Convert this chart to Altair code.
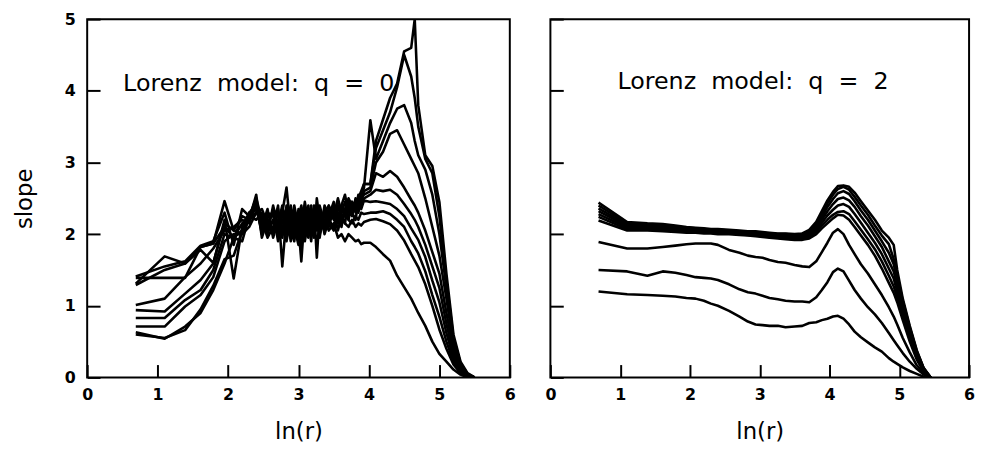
import altair as alt
import pandas as pd

# ---------------- data: q = 0 panel ----------------
lnr_q0 = [0.69, 1.10, 1.39, 1.61, 1.79, 1.95, 2.08, 2.20, 2.30, 2.40,
          2.48, 2.56, 2.64, 2.71, 2.77, 2.83, 2.89, 2.94, 3.00, 3.04, 3.09, 3.14, 3.18, 3.22,
          3.26, 3.30, 3.37, 3.43, 3.50, 3.56, 3.61, 3.66, 3.71, 3.76, 3.81, 3.85, 3.89, 3.93,
          4.02, 4.10, 4.20, 4.30, 4.40, 4.50, 4.60, 4.65, 4.70, 4.80, 4.90, 5.00, 5.10, 5.20,
          5.30, 5.40, 5.50]

q0_m1 = [1.31, 1.69, 1.59, 1.82, 1.87, 2.46, 2.05, 2.00, 2.30, 2.35,
         2.15, 2.05, 2.20, 2.00, 2.30, 2.10, 1.95, 2.25, 2.05, 2.15, 1.90, 2.20, 2.05, 2.10,
         2.30, 2.00, 2.20, 2.05, 2.15, 1.95, 2.00, 1.90, 2.00, 1.95, 1.90, 1.92, 1.86, 1.88,
         1.88, 1.82, 1.72, 1.63, 1.42, 1.26, 1.10, 1.00, 0.90, 0.72, 0.50, 0.33, 0.22, 0.11,
         0.04, 0.00, 0.00]
q0_m2 = [1.39, 1.39, 1.39, 1.82, 1.87, 2.10, 1.95, 2.15, 2.25, 2.20,
         2.30, 2.10, 2.00, 2.35, 1.95, 2.40, 2.10, 2.00, 2.30, 1.85, 2.20, 2.40, 2.00, 2.25,
         2.10, 2.35, 2.00, 2.20, 2.30, 2.05, 2.25, 2.15, 2.10, 2.20, 2.10, 2.15, 2.12, 2.17,
         2.20, 2.21, 2.18, 2.14, 2.05, 1.91, 1.72, 1.63, 1.54, 1.30, 1.00, 0.67, 0.40, 0.18,
         0.06, 0.00, 0.00]
q0_m3 = [1.29, 1.50, 1.59, 1.78, 1.60, 2.15, 2.05, 2.25, 2.20, 2.40,
         2.00, 2.25, 2.30, 1.90, 2.20, 2.05, 2.35, 2.15, 1.95, 2.25, 2.05, 1.95, 2.30, 2.00,
         2.20, 2.10, 2.30, 2.15, 2.05, 2.25, 2.15, 2.30, 2.20, 2.15, 2.25, 2.20, 2.30, 2.28,
         2.30, 2.30, 2.32, 2.28, 2.20, 2.10, 1.90, 1.82, 1.73, 1.48, 1.15, 0.85, 0.50, 0.22,
         0.08, 0.01, 0.00]
q0_m4 = [1.41, 1.55, 1.62, 1.84, 1.90, 2.30, 1.85, 2.35, 2.25, 2.50,
         2.20, 1.95, 2.10, 2.40, 1.55, 2.25, 2.00, 2.40, 2.10, 1.62, 2.30, 2.10, 2.20, 1.95,
         2.50, 2.20, 2.10, 2.35, 2.20, 2.30, 2.10, 2.35, 2.25, 2.30, 2.35, 2.40, 2.35, 2.47,
         2.45, 2.46, 2.44, 2.42, 2.35, 2.25, 2.08, 2.00, 1.92, 1.68, 1.35, 1.05, 0.62, 0.27,
         0.10, 0.02, 0.00]
q0_m5 = [1.01, 1.10, 1.40, 1.59, 1.80, 2.05, 2.10, 2.20, 2.15, 2.45,
         2.10, 2.35, 1.95, 2.20, 2.30, 2.65, 2.05, 1.90, 2.35, 2.20, 2.00, 2.25, 2.05, 2.40,
         1.67, 2.30, 2.25, 2.10, 2.40, 2.15, 2.35, 2.25, 2.40, 2.30, 2.20, 2.45, 2.40, 2.50,
         2.55, 2.62, 2.60, 2.62, 2.55, 2.42, 2.28, 2.20, 2.10, 1.85, 1.55, 1.25, 0.75, 0.32,
         0.12, 0.03, 0.00]
q0_m6 = [0.94, 0.92, 1.17, 1.36, 1.59, 2.20, 1.38, 2.10, 2.30, 2.40,
         2.25, 2.00, 2.40, 2.10, 2.05, 2.15, 2.40, 2.10, 1.85, 2.35, 2.15, 2.00, 2.35, 2.10,
         2.25, 1.95, 2.40, 2.20, 2.10, 2.40, 2.25, 2.15, 2.45, 2.35, 2.45, 2.30, 2.50, 2.55,
         2.60, 2.85, 2.80, 2.88, 2.80, 2.65, 2.48, 2.40, 2.30, 2.05, 1.75, 1.45, 0.90, 0.38,
         0.14, 0.03, 0.00]
q0_m7 = [0.83, 0.83, 1.08, 1.22, 1.50, 2.00, 1.95, 2.05, 2.20, 2.55,
         1.95, 2.20, 2.15, 2.30, 2.10, 1.90, 2.25, 2.35, 2.00, 2.10, 2.45, 2.15, 1.90, 2.30,
         2.05, 2.40, 2.15, 2.35, 2.25, 2.15, 2.40, 2.30, 2.20, 2.45, 2.30, 2.50, 2.45, 2.60,
         2.65, 3.00, 3.15, 3.40, 3.45, 3.25, 3.05, 2.95, 2.85, 2.50, 2.10, 1.70, 1.10, 0.45,
         0.16, 0.04, 0.00]
q0_m8 = [0.71, 0.71, 0.99, 1.15, 1.40, 1.90, 2.00, 2.00, 2.10, 2.30,
         2.35, 2.15, 2.00, 2.15, 2.40, 2.00, 2.20, 2.05, 2.25, 2.40, 2.10, 2.30, 2.15, 2.20,
         2.35, 2.10, 2.30, 2.40, 2.25, 2.50, 2.30, 2.45, 2.35, 2.25, 2.50, 2.40, 2.55, 2.65,
         3.59, 3.05, 3.30, 3.55, 3.75, 3.80, 3.55, 3.30, 3.10, 2.90, 2.55, 2.00, 1.25, 0.50,
         0.18, 0.04, 0.00]
q0_m9 = [0.63, 0.54, 0.71, 0.90, 1.22, 1.59, 1.95, 1.90, 2.25, 2.35,
         2.05, 2.30, 2.25, 2.05, 2.25, 2.35, 1.90, 2.25, 2.15, 2.00, 2.35, 2.05, 2.40, 2.00,
         2.15, 2.30, 2.05, 2.25, 2.45, 2.20, 2.40, 2.55, 2.30, 2.45, 2.35, 2.55, 2.50, 2.70,
         2.70, 3.20, 3.45, 3.70, 4.05, 4.50, 4.20, 3.90, 3.50, 3.05, 2.85, 2.25, 1.35, 0.55,
         0.20, 0.05, 0.00]
q0_m10 = [0.60, 0.55, 0.66, 0.95, 1.28, 1.65, 1.70, 2.05, 2.20, 2.30,
          2.25, 2.10, 2.35, 2.25, 2.00, 2.20, 2.30, 1.95, 2.20, 2.30, 2.05, 2.35, 2.10, 2.30,
          2.20, 2.05, 2.35, 2.15, 2.30, 2.40, 2.20, 2.35, 2.50, 2.40, 2.45, 2.50, 2.60, 2.70,
          2.70, 3.30, 3.60, 3.90, 4.10, 4.55, 4.60, 5.00, 3.80, 3.10, 2.95, 2.45, 1.45, 0.60,
          0.22, 0.06, 0.00]

# ---------------- data: q = 2 panel ----------------
lnr_q2 = [0.69, 1.10, 1.39, 1.61, 1.79, 1.95, 2.08, 2.20, 2.30, 2.40,
          2.56, 2.71, 2.83, 2.94, 3.04, 3.14, 3.26, 3.37, 3.50, 3.61,
          3.71, 3.81, 3.89, 3.97, 4.05, 4.12, 4.20, 4.28, 4.36, 4.45,
          4.55, 4.65, 4.75, 4.85, 4.92, 4.97, 5.05, 5.15, 5.25, 5.35, 5.45]

q2_m1 = [1.20, 1.16, 1.15, 1.14, 1.13, 1.11, 1.10, 1.07, 1.03, 1.00,
         0.93, 0.85, 0.78, 0.74, 0.73, 0.72, 0.72, 0.70, 0.71, 0.72,
         0.76, 0.77, 0.80, 0.82, 0.85, 0.86, 0.82, 0.74, 0.64, 0.56,
         0.49, 0.42, 0.36, 0.27, 0.22, 0.19, 0.14, 0.09, 0.05, 0.01, 0.00]
q2_m2 = [1.50, 1.48, 1.42, 1.48, 1.46, 1.43, 1.40, 1.39, 1.38, 1.36,
         1.30, 1.23, 1.19, 1.17, 1.14, 1.11, 1.09, 1.07, 1.06, 1.06,
         1.05, 1.12, 1.22, 1.33, 1.47, 1.52, 1.48, 1.35, 1.22, 1.10,
         0.98, 0.88, 0.76, 0.62, 0.52, 0.45, 0.34, 0.22, 0.12, 0.04, 0.00]
q2_m3 = [1.89, 1.80, 1.80, 1.82, 1.84, 1.86, 1.87, 1.87, 1.87, 1.85,
         1.78, 1.74, 1.70, 1.68, 1.67, 1.64, 1.61, 1.60, 1.57, 1.55,
         1.54, 1.62, 1.75, 1.88, 2.02, 2.07, 2.00, 1.85, 1.72, 1.58,
         1.45, 1.30, 1.15, 0.98, 0.85, 0.74, 0.55, 0.35, 0.17, 0.06, 0.00]
q2_m4 = [2.19, 2.05, 2.05, 2.04, 2.03, 2.02, 2.02, 2.01, 2.01, 2.00,
         2.00, 1.99, 1.98, 1.97, 1.96, 1.95, 1.94, 1.93, 1.92, 1.92,
         1.94, 2.00, 2.08, 2.15, 2.22, 2.27, 2.26, 2.20, 2.10, 1.98,
         1.85, 1.70, 1.52, 1.32, 1.18, 1.05, 0.80, 0.50, 0.25, 0.08, 0.00]
q2_m5 = [2.24, 2.07, 2.06, 2.06, 2.05, 2.04, 2.03, 2.02, 2.02, 2.02,
         2.01, 2.00, 1.99, 1.98, 1.97, 1.96, 1.95, 1.94, 1.93, 1.93,
         1.96, 2.03, 2.12, 2.20, 2.27, 2.31, 2.32, 2.28, 2.18, 2.06,
         1.93, 1.79, 1.62, 1.42, 1.27, 1.12, 0.86, 0.55, 0.28, 0.09, 0.00]
q2_m6 = [2.28, 2.09, 2.08, 2.08, 2.06, 2.05, 2.04, 2.04, 2.03, 2.03,
         2.02, 2.01, 2.00, 2.00, 1.99, 1.98, 1.97, 1.96, 1.95, 1.95,
         1.98, 2.05, 2.16, 2.26, 2.34, 2.40, 2.42, 2.38, 2.28, 2.16,
         2.02, 1.88, 1.72, 1.52, 1.38, 1.20, 0.92, 0.60, 0.31, 0.10, 0.00]
q2_m7 = [2.32, 2.11, 2.10, 2.09, 2.08, 2.07, 2.06, 2.05, 2.04, 2.04,
         2.03, 2.02, 2.01, 2.01, 2.00, 1.99, 1.98, 1.97, 1.96, 1.97,
         2.00, 2.08, 2.20, 2.32, 2.42, 2.49, 2.51, 2.47, 2.38, 2.25,
         2.12, 1.97, 1.82, 1.62, 1.48, 1.28, 0.98, 0.64, 0.33, 0.11, 0.00]
q2_m8 = [2.36, 2.13, 2.12, 2.11, 2.10, 2.08, 2.07, 2.06, 2.05, 2.05,
         2.04, 2.03, 2.02, 2.02, 2.01, 2.00, 1.99, 1.98, 1.98, 1.99,
         2.02, 2.11, 2.24, 2.38, 2.49, 2.57, 2.60, 2.56, 2.46, 2.33,
         2.20, 2.05, 1.90, 1.74, 1.58, 1.36, 1.03, 0.68, 0.35, 0.12, 0.00]
q2_m9 = [2.40, 2.15, 2.13, 2.12, 2.11, 2.09, 2.08, 2.07, 2.06, 2.06,
         2.05, 2.04, 2.03, 2.03, 2.02, 2.01, 2.00, 2.00, 1.99, 2.00,
         2.04, 2.14, 2.28, 2.43, 2.55, 2.63, 2.66, 2.62, 2.52, 2.40,
         2.27, 2.12, 1.98, 1.86, 1.65, 1.42, 1.07, 0.70, 0.37, 0.13, 0.00]
q2_m10 = [2.44, 2.17, 2.15, 2.14, 2.12, 2.10, 2.09, 2.08, 2.07, 2.07,
          2.06, 2.05, 2.04, 2.04, 2.03, 2.02, 2.01, 2.01, 2.00, 2.01,
          2.06, 2.17, 2.32, 2.47, 2.59, 2.67, 2.68, 2.66, 2.58, 2.46,
          2.33, 2.20, 2.05, 1.95, 1.85, 1.50, 1.10, 0.72, 0.38, 0.13, 0.00]

x_ticks = [0, 1, 2, 3, 4, 5, 6]
y_ticks = [0, 1, 2, 3, 4, 5]
NB = "\u00a0\u00a0"
note_q0 = NB.join(["Lorenz", "model:", "q", "=", "0"])
note_q2 = NB.join(["Lorenz", "model:", "q", "=", "2"])
note_q0_pos = (0.51, 4.00)
note_q2_pos = (0.96, 4.03)

FONT = "DejaVu Sans"


def long_table(xs, curves):
    rows = []
    for i, ys in enumerate(curves):
        assert len(xs) == len(ys), (i, len(xs), len(ys))
        for j, (x, y) in enumerate(zip(xs, ys)):
            rows.append({"lnr": x, "slope": y, "curve": i, "order": j})
    return pd.DataFrame(rows)


df_q0 = long_table(lnr_q0, [q0_m1, q0_m2, q0_m3, q0_m4, q0_m5,
                            q0_m6, q0_m7, q0_m8, q0_m9, q0_m10])
df_q2 = long_table(lnr_q2, [q2_m1, q2_m2, q2_m3, q2_m4, q2_m5,
                            q2_m6, q2_m7, q2_m8, q2_m9, q2_m10])

TICK = 13


def panel(df, note, pos, width, show_y):
    x_axis = alt.Axis(values=x_ticks, format="d", tickSize=TICK, offset=-TICK,
                      domain=False, grid=False, labelPadding=9, labelFlush=False,
                      title="ln(r)", titlePadding=19)
    if show_y:
        y_axis = alt.Axis(values=y_ticks, format="d", tickSize=TICK, offset=-TICK,
                          domain=False, grid=False, labelPadding=12, labelFlush=False,
                          title="slope", titlePadding=28)
    else:
        y_axis = alt.Axis(values=y_ticks, tickSize=TICK, offset=-TICK,
                          domain=False, grid=False, labels=False, title=None)
    xs = alt.Scale(domain=[0, 6], nice=False, zero=False)
    ys = alt.Scale(domain=[0, 5], nice=False, zero=False)
    lines = alt.Chart(df).mark_line(color="black", strokeWidth=2.6, clip=True,
                                    strokeJoin="round").encode(
        x=alt.X("lnr:Q", scale=xs, axis=x_axis),
        y=alt.Y("slope:Q", scale=ys, axis=y_axis),
        detail="curve:N",
        order="order:Q",
    )
    note_df = pd.DataFrame({"lnr": [pos[0]], "slope": [pos[1]], "label": [note]})
    text = alt.Chart(note_df).mark_text(align="left", baseline="alphabetic",
                                        font=FONT, fontSize=24, color="black").encode(
        x=alt.X("lnr:Q", scale=xs),
        y=alt.Y("slope:Q", scale=ys),
        text="label:N",
    )
    return alt.layer(lines, text).properties(width=width, height=362)


left = panel(df_q0, note_q0, note_q0_pos, 427, True)
right = panel(df_q2, note_q2, note_q2_pos, 423, False)

chart = alt.hconcat(left, right, spacing=41, bounds="flush").properties(
    padding={"left": 4, "top": 0, "right": 0, "bottom": 0}
).configure_view(
    stroke="black", strokeWidth=2
).configure_axis(
    labelFont=FONT, labelFontSize=16, labelFontWeight="bold", labelColor="black",
    titleFont=FONT, titleFontSize=23, titleFontWeight="normal", titleColor="black",
    tickColor="black", tickWidth=2,
)

chart.save("out.html", embed_options={"renderer": "svg", "actions": False})
